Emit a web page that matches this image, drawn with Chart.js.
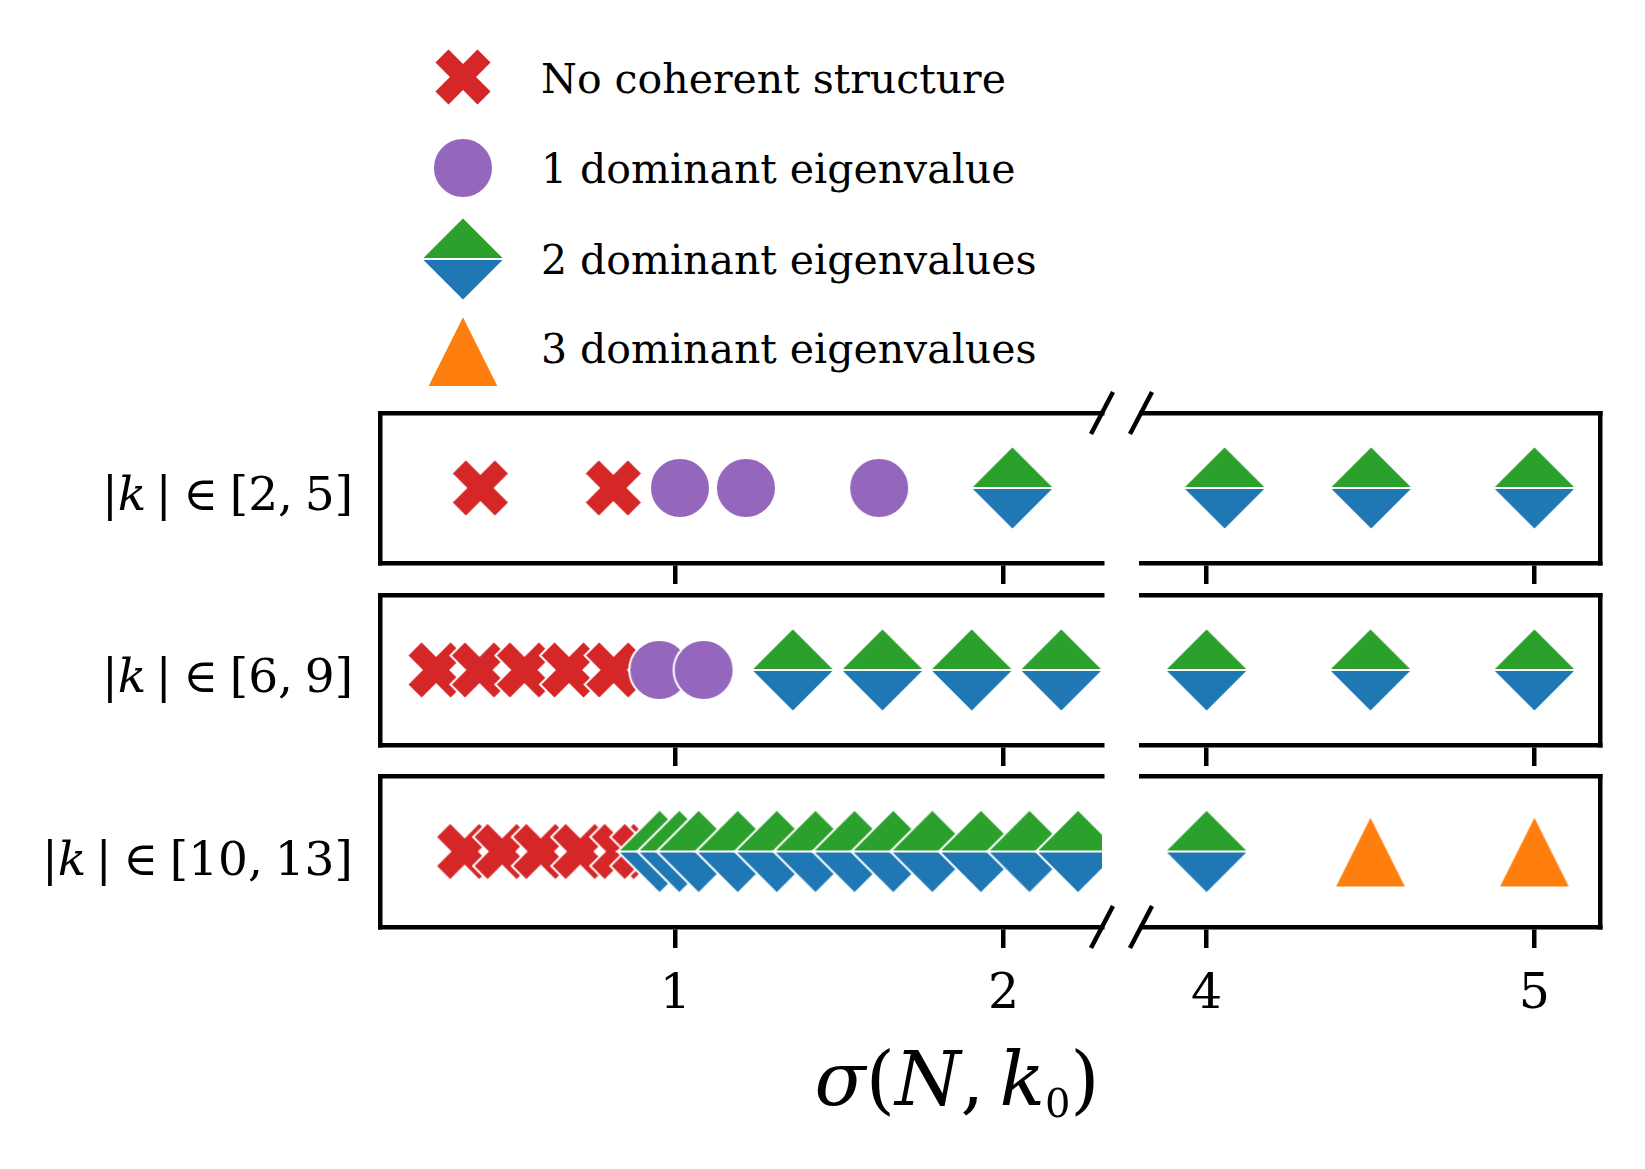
<!DOCTYPE html>
<html>
<head>
<meta charset="utf-8">
<script src="https://cdn.jsdelivr.net/npm/chart.js"></script>
<style>
html, body { margin: 0; padding: 0; background: #ffffff; }
#wrap { position: relative; width: 1645px; height: 1169px; overflow: hidden; background: #ffffff; }
#wrap canvas { position: absolute; }
.t { position: absolute; font-family: 'DejaVu Serif'; color: #000; white-space: nowrap; line-height: normal; }
</style>
</head>
<body>
<div id="wrap"></div>
<script>
// ---------------- data ----------------
const categories = ['No coherent structure', '1 dominant eigenvalue', '2 dominant eigenvalues', '3 dominant eigenvalues'];
const rowRanges = [['2', '5'], ['6', '9'], ['10', '13']];   // |k| ∈ [a, b]
const xTicksLeft = [1, 2];
const xTicksRight = [4, 5];
const xRangeLeft = [0.1, 2.3];
const xRangeRight = [3.8, 5.2];

// |k| ∈ [2,5]
const row1None  = [0.406, 0.811];
const row1One   = [1.014, 1.215, 1.621];
const row1Two   = [2.027, 4.055, 4.502, 5.0];
const row1Three = [];
// |k| ∈ [6,9]
const row2None  = [0.271, 0.403, 0.540, 0.676, 0.812];
const row2One   = [0.951, 1.086];
const row2Two   = [1.358, 1.631, 1.903, 2.176, 4.0, 4.5, 5.0];
const row2Three = [];
// |k| ∈ [10,13]
const row3None  = [0.358, 0.472, 0.590, 0.710, 0.829, 0.890];
const row3One   = [];
const row3Two   = [0.952, 1.012, 1.071, 1.190, 1.309, 1.427, 1.546, 1.664, 1.783, 1.931, 2.079, 2.227, 4.0];
const row3Three = [4.5, 5.0];

// ---------------- styles / layout ----------------
const COL_RED = '#d62728', COL_PURPLE = '#9467bd', COL_GREEN = '#2ca02c', COL_BLUE = '#1f77b4', COL_ORANGE = '#ff7f0e';
const FONT = 'DejaVu Serif';
const PANEL_L = { left: 379, right: 1103 };
const PANEL_R = { left: 1140, right: 1601 };
const ROW_TOPS = [412, 594, 775];
const ROW_H = 152;
const SPINE = 4.5;

const wrap = document.getElementById('wrap');
Chart.defaults.font.family = FONT;

function markerCanvas(dim, draw) {
  const c = document.createElement('canvas');
  c.width = dim; c.height = dim;
  const g = c.getContext('2d');
  g.translate(dim / 2, dim / 2);
  draw(g);
  return c;
}
function finish(g, fill) {
  g.closePath();
  g.fillStyle = fill; g.fill();
  g.strokeStyle = '#ffffff'; g.lineWidth = 2; g.lineJoin = 'miter'; g.stroke();
}
const mkX = markerCanvas(66, g => {
  g.rotate(Math.PI / 4);
  const u = 61.5 / 6;
  const pts = [[-1,-3],[-1,-1],[-3,-1],[-3,1],[-1,1],[-1,3],[1,3],[1,1],[3,1],[3,-1],[1,-1],[1,-3]];
  g.beginPath();
  pts.forEach(([a, b], i) => i ? g.lineTo(a * u, b * u) : g.moveTo(a * u, b * u));
  finish(g, COL_RED);
});
const mkCircle = markerCanvas(66, g => {
  g.beginPath(); g.arc(0, 0, 30, 0, Math.PI * 2);
  finish(g, COL_PURPLE);
});
const mkDiamond = markerCanvas(90, g => {
  const h = 42;
  g.beginPath(); g.moveTo(-h, 0); g.lineTo(0, -h); g.lineTo(h, 0); finish(g, COL_GREEN);
  g.beginPath(); g.moveTo(-h, 0); g.lineTo(h, 0); g.lineTo(0, h); finish(g, COL_BLUE);
});
const mkTriangle = markerCanvas(80, g => {
  const a = 36;
  g.beginPath(); g.moveTo(0, -a); g.lineTo(-a, a); g.lineTo(a, a); finish(g, COL_ORANGE);
});
const markers = [mkX, mkCircle, mkDiamond, mkTriangle];

const rowsData = [
  [row1None, row1One, row1Two, row1Three],
  [row2None, row2One, row2Two, row2Three],
  [row3None, row3One, row3Two, row3Three]
];

const breakMarks = {
  id: 'breakMarks',
  afterDraw(chart, args, opts) {
    const { ctx, chartArea: a } = chart;
    const x = opts.side === 'L' ? a.right : a.left;
    const ys = [];
    if (opts.top) ys.push(a.top);
    if (opts.bottom) ys.push(a.bottom);
    ctx.save();
    ctx.strokeStyle = '#000'; ctx.lineWidth = SPINE; ctx.lineCap = 'butt';
    ys.forEach(y => {
      ctx.beginPath(); ctx.moveTo(x - 11, y + 21); ctx.lineTo(x + 11, y - 21); ctx.stroke();
    });
    ctx.restore();
  }
};

rowsData.forEach((cats, r) => {
  ['L', 'R'].forEach(side => {
    const panel = side === 'L' ? PANEL_L : PANEL_R;
    const range = side === 'L' ? xRangeLeft : xRangeRight;
    const tickVals = side === 'L' ? xTicksLeft : xTicksRight;
    const isBottom = r === 2;
    const axisH = isBottom ? 100 : 0;
    const padL = 30, padR = 30, padT = 30, padB = isBottom ? 110 : 30;
    const w = panel.right - panel.left + padL + padR;
    const h = ROW_H + padT + padB;
    const cv = document.createElement('canvas');
    cv.width = w; cv.height = h;
    cv.style.width = w + 'px'; cv.style.height = h + 'px';
    cv.style.left = (panel.left - padL) + 'px';
    cv.style.top = (ROW_TOPS[r] - padT) + 'px';
    wrap.appendChild(cv);

    const datasets = cats.map((vals, ci) => ({
      label: categories[ci],
      data: vals.filter(v => v >= range[0] && v <= range[1]).map(v => ({ x: v, y: 0 })),
      pointStyle: markers[ci],
      pointRadius: 30,
      pointHoverRadius: 30,
      showLine: false,
      order: 4 - ci,
      clip: 0,
      xAxisID: 'x',
      yAxisID: 'y'
    }));

    new Chart(cv, {
      type: 'scatter',
      data: { datasets },
      options: {
        responsive: false,
        animation: false,
        events: [],
        layout: { padding: { left: padL, right: padR, top: padT, bottom: padB - axisH } },
        plugins: {
          legend: { display: false },
          tooltip: { enabled: false },
          breakMarks: { side, top: r === 0, bottom: isBottom }
        },
        scales: {
          x: {
            type: 'linear', position: 'bottom', min: range[0], max: range[1],
            afterBuildTicks: s => { s.ticks = tickVals.map(v => ({ value: v })); },
            afterFit: s => { s.height = axisH; },
            grid: { display: true, drawOnChartArea: false, drawTicks: true, tickLength: 21, tickWidth: SPINE, tickColor: '#000', lineWidth: SPINE },
            border: { display: true, width: SPINE, color: '#000' },
            ticks: {
              display: isBottom, color: '#000', padding: 18, maxRotation: 0, autoSkip: false,
              font: { family: FONT, size: 49 },
              callback: v => String(v)
            }
          },
          xTop: {
            type: 'linear', position: 'top', min: range[0], max: range[1],
            afterFit: s => { s.height = 0; },
            grid: { display: false, lineWidth: SPINE },
            border: { display: true, width: SPINE, color: '#000' },
            ticks: { display: false }
          },
          y: {
            type: 'linear', position: side === 'L' ? 'left' : 'right', min: -1, max: 1,
            afterFit: s => { s.width = 0; },
            grid: { display: false, lineWidth: SPINE },
            border: { display: true, width: SPINE, color: '#000' },
            ticks: { display: false }
          }
        }
      },
      plugins: [breakMarks]
    });
  });
});

// ---------------- text (legend, row labels, axis title) ----------------
function placeText(html, x, baseline, size, align) {
  const d = document.createElement('div');
  d.className = 't';
  d.style.fontSize = size + 'px';
  d.innerHTML = html + '<span class="bl" style="display:inline-block;width:0;height:0;"></span>';
  wrap.appendChild(d);
  const off = d.querySelector('.bl').offsetTop;
  d.style.top = (baseline - off) + 'px';
  const wdt = d.offsetWidth;
  if (align === 'right') d.style.left = (x - wdt) + 'px';
  else if (align === 'center') d.style.left = (x - wdt / 2) + 'px';
  else d.style.left = x + 'px';
  return d;
}

const legendMarkerY = [77, 168, 259, 351];
const legendBaseline = [92.5, 183, 273.5, 363];
categories.forEach((lab, i) => {
  const src = markers[i];
  const c = document.createElement('canvas');
  c.width = src.width; c.height = src.height;
  c.getContext('2d').drawImage(src, 0, 0);
  c.style.left = (463 - src.width / 2) + 'px';
  c.style.top = (legendMarkerY[i] - src.height / 2) + 'px';
  wrap.appendChild(c);
  placeText(lab, 541, legendBaseline[i], 41, 'left');
});

const rowBaselines = [510, 692, 875];
rowRanges.forEach((rg, r) => {
  placeText('|<i>k</i>&#8201;|&#8197;&#8712;&#8197;[' + rg[0] + ',&#8197;' + rg[1] + ']', 353, rowBaselines[r], 47, 'right');
});

placeText('<i>&#963;</i>(<i>N</i>,&#8201;<i>k</i><span style="position:relative;top:12px;font-size:40px;line-height:0;">0</span>)', 957, 1105, 75, 'center');
</script>
</body>
</html>
